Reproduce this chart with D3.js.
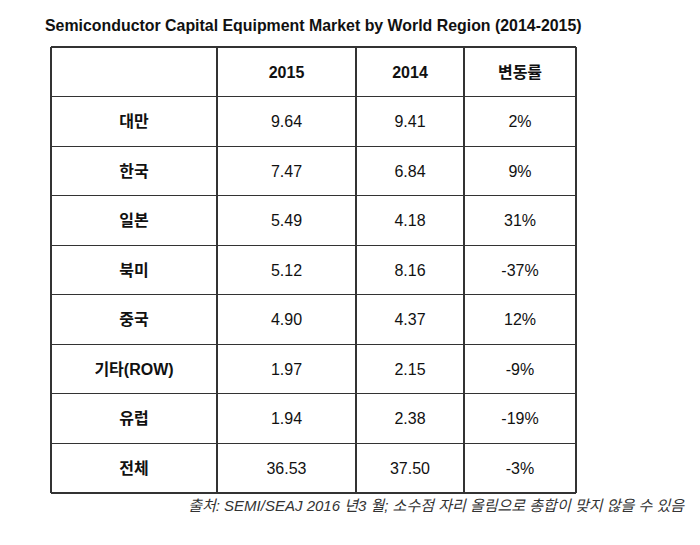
<!DOCTYPE html>
<html>
<head>
<meta charset="utf-8">
<script src="https://cdn.jsdelivr.net/npm/d3@7"></script>
<style>
  body { margin: 0; background: #fff; }
</style>
</head>
<body>
<div id="chart"></div>
<script>
// Table data
const regions = ["대만", "한국", "일본", "북미", "중국", "기타(ROW)", "유럽", "전체"];
const values2015 = [9.64, 7.47, 5.49, 5.12, 4.90, 1.97, 1.94, 36.53];
const values2014 = [9.41, 6.84, 4.18, 8.16, 4.37, 2.15, 2.38, 37.50];
const changes = ["2%", "9%", "31%", "-37%", "12%", "-9%", "-19%", "-3%"];
const headers = ["", "2015", "2014", "변동률"];

const width = 700, height = 545;
const kr = "'Liberation Sans', Arial, 'Noto Sans CJK KR', sans-serif";

const svg = d3.select("#chart")
   .append("svg")
   .attr("width", width)
   .attr("height", height);

svg.append("text")
   .attr("x", 45)
   .attr("y", 31)
   .attr("font-family", kr)
   .attr("font-size", 15.9)
   .attr("font-weight", "bold")
   .attr("fill", "#111")
   .text("Semiconductor Capital Equipment Market by World Region (2014-2015)");

// column edges
const colEdges = [51, 217, 356, 464, 576];
const rowY = d3.scaleBand()
   .domain(["header", ...regions])
   .range([47, 493]);

const colMid = i => (colEdges[i] + colEdges[i + 1]) / 2;

const rows = [headers].concat(regions.map((r, i) => [
   r,
   values2015[i].toFixed(2),
   values2014[i].toFixed(2),
   changes[i]
]));
const rowKeys = ["header", ...regions];

const g = svg.append("g");

// cell text
rows.forEach((row, ri) => {
   const y = rowY(rowKeys[ri]) + rowY.bandwidth() / 2;
   row.forEach((cell, ci) => {
      g.append("text")
         .attr("x", colMid(ci))
         .attr("y", y)
         .attr("dy", "0.36em")
         .attr("text-anchor", "middle")
         .attr("font-family", kr)
         .attr("font-size", 16)
         .attr("font-weight", (ri === 0 || ci === 0) ? "bold" : "normal")
         .attr("fill", "#111")
         .text(cell);
   });
});

// grid lines
const grid = svg.append("g")
   .attr("stroke", "#333")
   .attr("stroke-width", 1.2)
   .attr("shape-rendering", "crispEdges");

rowKeys.forEach(k => {
   grid.append("line")
      .attr("x1", colEdges[0]).attr("x2", colEdges[4])
      .attr("y1", rowY(k)).attr("y2", rowY(k));
});
grid.append("line")
   .attr("x1", colEdges[0]).attr("x2", colEdges[4])
   .attr("y1", rowY.range()[1]).attr("y2", rowY.range()[1]);

colEdges.forEach(x => {
   grid.append("line")
      .attr("x1", x).attr("x2", x)
      .attr("y1", rowY.range()[0]).attr("y2", rowY.range()[1]);
});

// footnote
svg.append("text")
   .attr("x", 684)
   .attr("y", 511)
   .attr("text-anchor", "end")
   .attr("font-family", kr)
   .attr("font-size", 15)
   .attr("font-style", "italic")
   .attr("fill", "#333")
   .text("출처: SEMI/SEAJ 2016 년3 월; 소수점 자리 올림으로 총합이 맞지 않을 수 있음");
</script>
</body>
</html>
